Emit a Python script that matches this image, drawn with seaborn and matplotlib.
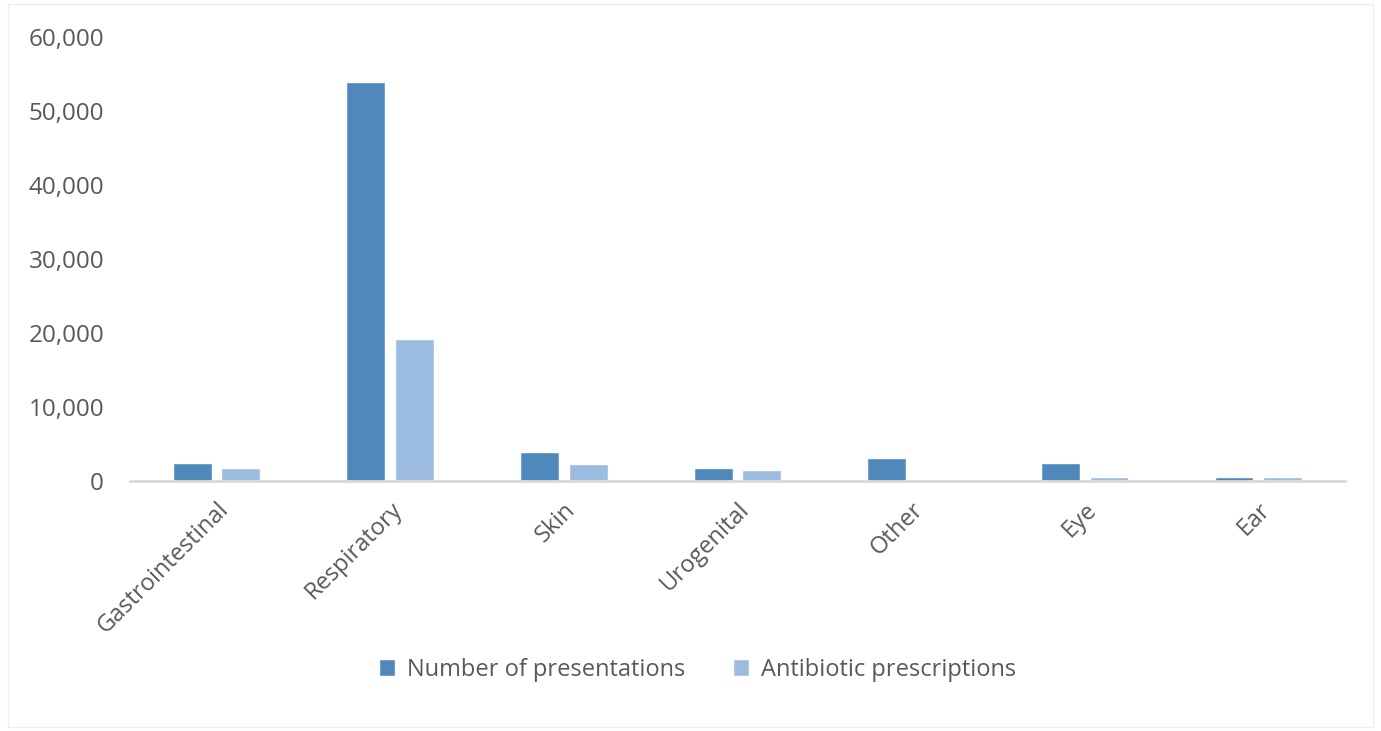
import pandas as pd
import matplotlib.pyplot as plt
import matplotlib.ticker as mticker
import seaborn as sns
from matplotlib.patches import Rectangle

# Datos
categories = ["Gastrointestinal", "Respiratory", "Skin", "Urogenital", "Other", "Eye", "Ear"]
presentations = [2500, 53900, 3900, 1750, 3100, 2500, 550]
antibiotics = [1750, 19200, 2350, 1500, 0, 500, 500]
series_names = ["Number of presentations", "Antibiotic prescriptions"]
yticks = [0, 10000, 20000, 30000, 40000, 50000, 60000]

df = pd.DataFrame({
    "category": categories * 2,
    "value": presentations + antibiotics,
    "series": [series_names[0]] * len(categories) + [series_names[1]] * len(categories),
})

sns.set_style("white")
plt.rcParams["font.family"] = ["Open Sans", "DejaVu Sans"]
text_color = "#595959"

fig = plt.figure(figsize=(13.81, 7.31), dpi=100)
ax = fig.add_axes([0.094, 0.342, 0.880, 0.607])

sns.barplot(data=df, x="category", y="value", hue="series",
            palette=["#4F89BC", "#9CBBE1"], width=0.56, gap=0.2,
            saturation=1, ax=ax)

ax.set_ylim(0, 60000)
ax.set_yticks(yticks)
ax.yaxis.set_major_formatter(mticker.FuncFormatter(lambda v, p: f"{int(v):,}"))
ax.set_xlabel("")
ax.set_ylabel("")
ax.tick_params(axis="y", labelsize=17.5, colors=text_color, length=0, pad=18.5)
ax.tick_params(axis="x", labelsize=17, colors=text_color, length=0, pad=12)
for lab in ax.get_xticklabels():
    lab.set_rotation(45)
    lab.set_ha("right")
    lab.set_va("top")
    lab.set_rotation_mode("anchor")

for side in ["top", "right", "left"]:
    ax.spines[side].set_visible(False)
ax.spines["bottom"].set_color("#D9D9D9")
ax.spines["bottom"].set_linewidth(2)

ax.legend(loc="center", bbox_to_anchor=(0.505, 0.084), bbox_transform=fig.transFigure,
          ncol=2, frameon=False, fontsize=17, labelcolor=text_color,
          handlelength=0.7, handleheight=0.7, handletextpad=0.5, columnspacing=2.0)

# borde exterior tenue
fig.patches.append(Rectangle((0.006, 0.006), 0.988, 0.988, transform=fig.transFigure,
                             fill=False, edgecolor="#E8F0F5", linewidth=1))

plt.savefig("out.png", dpi=100)
